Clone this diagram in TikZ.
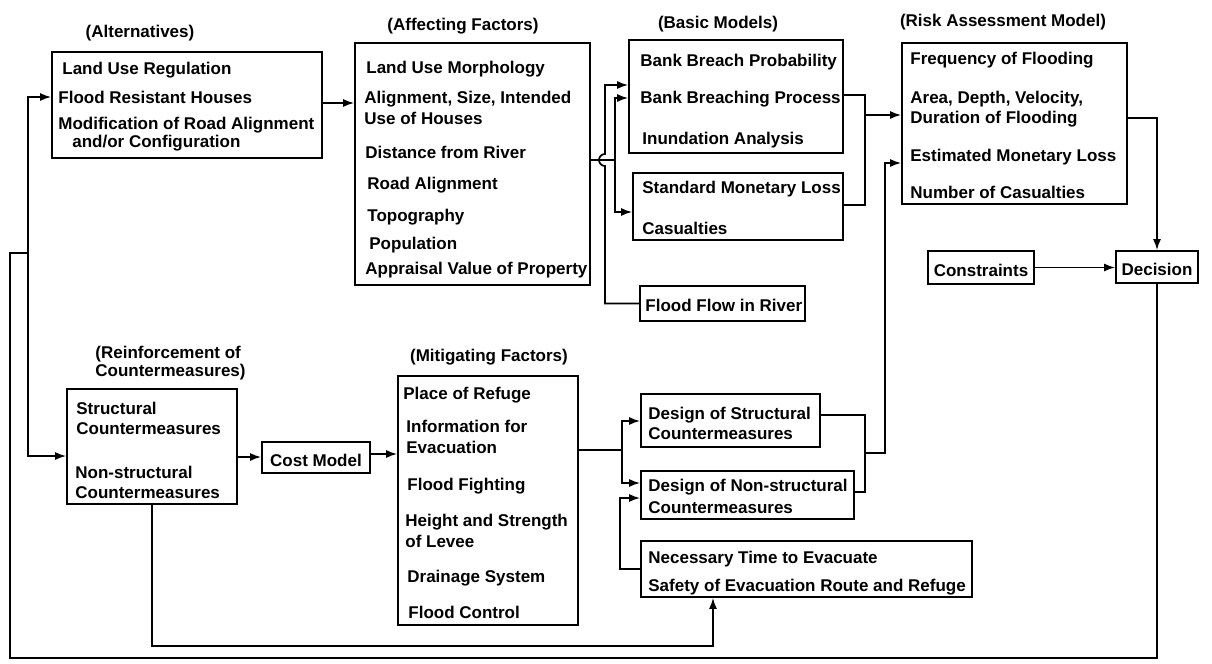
\documentclass[tikz,border=0pt]{standalone}
\usepackage{fontspec}
\setmainfont{Liberation Sans}
\usetikzlibrary{arrows.meta,fit}
\tikzset{
	box/.style={draw, line width=0.85pt, inner sep=0pt},
	txt/.style={anchor=base west, inner sep=0pt, font=\fontsize{8.5}{10}\selectfont\bfseries},
	ttl/.style={txt, anchor=base},
	ln/.style={line width=0.85pt},
	arr/.style={ln, -{Latex[length=5.5pt,width=4pt]}},
}
\begin{document}
\begin{tikzpicture}[x=0.5pt,y=-0.5pt]
			%%%%% START %%%%%
			\useasboundingbox (0,0) rectangle (1212,664);
			
			% boxes
			\node[box, fit={(52,52) (322,158)}] (alt) {};
			\node[box, fit={(355,43) (590,285)}] (aff) {};
			\node[box, fit={(629,40) (843,153)}] (bas) {};
			\node[box, fit={(633,173) (843,240)}] (loss) {};
			\node[box, fit={(640,286) (805,321)}] (flow) {};
			\node[box, fit={(902,43) (1127,204)}] (risk) {};
			\node[box, fit={(928,251) (1034,284)}] (con) {};
			\node[box, fit={(1116,251) (1198,283)}] (dec) {};
			\node[box, fit={(67,389) (237,504)}] (rein) {};
			\node[box, fit={(262,442) (370,473)}] (cost) {};
			\node[box, fit={(398,376) (578,625)}] (mit) {};
			\node[box, fit={(641,394) (820,447)}] (ds) {};
			\node[box, fit={(641,471) (854,519)}] (dn) {};
			\node[box, fit={(641,541) (972,597)}] (nec) {};
			
			% alternatives
			\node[ttl] (altT) at (140,38) {(Alternatives)};
			\node[txt] (alt1) at (62,75) {Land Use Regulation};
			\node[txt] (alt2) at (58,103) {Flood Resistant Houses};
			\node[txt] (alt3) at (58,129) {Modification of Road Alignment};
			\node[txt] (alt4) at (72,148) {and/or Configuration};
			
			% affecting factors
			\node[ttl] (affT) at (463,31) {(Affecting Factors)};
			\node[txt] (aff1) at (366,73) {Land Use Morphology};
			\node[txt] (aff2) at (364,104) {Alignment, Size, Intended};
			\node[txt] (aff3) at (364,124) {Use of Houses};
			\node[txt] (aff4) at (365,158) {Distance from River};
			\node[txt] (aff5) at (367,189) {Road Alignment};
			\node[txt] (aff6) at (367,221) {Topography};
			\node[txt] (aff7) at (369,249) {Population};
			\node[txt] (aff8) at (365,274) {Appraisal Value of Property};
			
			% basic models
			\node[ttl] (basT) at (718,28) {(Basic Models)};
			\node[txt] (bas1) at (640,66) {Bank Breach Probability};
			\node[txt] (bas2) at (640,103) {Bank Breaching Process};
			\node[txt] (bas3) at (642,144) {Inundation Analysis};
			\node[txt] (loss1) at (642,193) {Standard Monetary Loss};
			\node[txt] (loss2) at (642,234) {Casualties};
			\node[txt] (flow1) at (645,311) {Flood Flow in River};
			
			% risk assessment
			\node[ttl] (riskT) at (1003,26) {(Risk Assessment Model)};
			\node[txt] (risk1) at (910,64) {Frequency of Flooding};
			\node[txt] (risk2) at (910,103) {Area, Depth, Velocity,};
			\node[txt] (risk3) at (910,123) {Duration of Flooding};
			\node[txt] (risk4) at (910,161) {Estimated Monetary Loss};
			\node[txt] (risk5) at (910,198) {Number of Casualties};
			\node[ttl] (con1) at (981,276) {Constraints};
			\node[ttl] (dec1) at (1157,275) {Decision};
			
			% reinforcement
			\node[txt] (reinT1) at (95,358) {(Reinforcement of};
			\node[txt] (reinT2) at (95,376) {Countermeasures)};
			\node[txt] (rein1) at (76,414) {Structural};
			\node[txt] (rein2) at (76,434) {Countermeasures};
			\node[txt] (rein3) at (75,478) {Non-structural};
			\node[txt] (rein4) at (75,498) {Countermeasures};
			\node[ttl] (cost1) at (316,466) {Cost Model};
			
			% mitigating factors
			\node[ttl] (mitT) at (489,361) {(Mitigating Factors)};
			\node[txt] (mit1) at (403,399) {Place of Refuge};
			\node[txt] (mit2) at (406,432) {Information for};
			\node[txt] (mit3) at (406,453) {Evacuation};
			\node[txt] (mit4) at (407,490) {Flood Fighting};
			\node[txt] (mit5) at (405,526) {Height and Strength};
			\node[txt] (mit6) at (405,547) {of Levee};
			\node[txt] (mit7) at (407,582) {Drainage System};
			\node[txt] (mit8) at (408,618) {Flood Control};
			
			% designs
			\node[txt] (ds1) at (648,419) {Design of Structural};
			\node[txt] (ds2) at (648,439) {Countermeasures};
			\node[txt] (dn1) at (648,491) {Design of Non-structural};
			\node[txt] (dn2) at (648,513) {Countermeasures};
			\node[txt] (nec1) at (648,563) {Necessary Time to Evacuate};
			\node[txt] (nec2) at (648,591) {Safety of Evacuation Route and Refuge};
			
			% upper flow
			\draw[arr] (alt.east |- 0,103) -- (aff.west |- 0,103);
			\coordinate (split) at (615,160);
			\draw[ln] (aff.east |- split) -- (split);
			\draw[arr] (split) |- (bas.west |- 0,98);
			\draw[arr] (split) |- (loss.west |- 0,212);
			\draw[arr] (flow.west) -- (605,0 |- flow.west) -- (605,166) arc[start angle=270, end angle=90, radius=3pt] -- (605,85) -- (bas.west |- 0,85);
			\coordinate (join) at (865,115);
			\draw[ln] (bas.east |- 0,95) -| (join) |- (loss.east |- 0,205);
			\draw[arr] (join) -- (risk.west |- join);
			\draw[arr] (risk.east |- 0,118) -| (dec.north);
			\draw[arr] (con.east) -- (dec.west |- con.east);
			
			% feedback loop
			\coordinate (back) at (28,253);
			\draw[ln] (dec.south) -- (dec.south |- 0,658) -- (10,658) |- (back);
			\draw[arr] (back) |- (alt.west |- 0,97);
			\draw[arr] (back) |- (rein.west |- 0,456);
			
			% lower flow
			\draw[arr] (rein.east |- 0,457) -- (cost.west |- 0,457);
			\draw[arr] (cost.east |- 0,454) -- (mit.west |- 0,454);
			\draw[arr] (rein.south) |- (713,646) -- (713,0 |- nec.south);
			\coordinate (fork) at (622,450);
			\draw[ln] (mit.east |- fork) -- (fork);
			\draw[arr] (fork) |- (ds.west |- 0,421);
			\draw[arr] (fork) |- (dn.west |- 0,483);
			\draw[arr] (nec.west |- 0,569) -| (620,530) |- (dn.west |- 0,498);
			\coordinate (merge) at (865,453);
			\draw[ln] (ds.east |- 0,415) -| (merge) |- (dn.east |- 0,492);
			\draw[arr] (merge) -| (885,300) |- (risk.west |- 0,163);
			%%%%% END %%%%%
\end{tikzpicture}
\end{document}
